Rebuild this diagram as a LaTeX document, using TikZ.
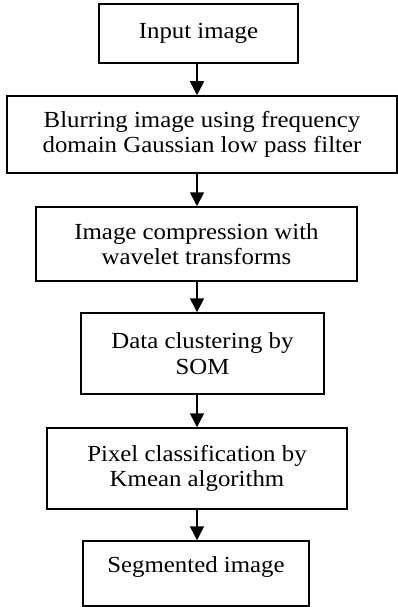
\documentclass[tikz,border=0pt]{standalone}
\usepackage{fontspec}
\setmainfont{Liberation Serif}[FakeStretch=1.08]
\usetikzlibrary{arrows.meta}
\begin{document}
\begin{tikzpicture}[x=1pt,y=-1pt,
  box/.style={draw,line width=1.5pt,align=center,inner sep=0pt,font=\fontsize{23}{25.5}\selectfont},
  arr/.style={line width=1.6pt,-{Triangle[length=14pt,width=14pt]}}]
\useasboundingbox (0,0) rectangle (398,607);
\node[box,minimum width=199pt,minimum height=59pt] (b1) at (198.5,33.5) {Input image};
\node[box,minimum width=390pt,minimum height=77pt] (b2) at (202,134.5) {Blurring image using frequency\\domain Gaussian low pass filter};
\node[box,minimum width=321pt,minimum height=74pt] (b3) at (196.5,244) {Image compression with\\wavelet transforms};
\node[box,minimum width=243pt,minimum height=81pt] (b4) at (202.5,353.5) {Data clustering by\\SOM};
\node[box,minimum width=300pt,minimum height=81pt] (b5) at (197,468.5) {Pixel classification by\\Kmean algorithm};
\node[box,minimum width=226pt,minimum height=65pt,text depth=18pt] (b6) at (196,573.5) {Segmented image};
\coordinate (ax) at (197,0);
\draw[arr] (b1.south -| ax) -- (b2.north -| ax);
\draw[arr] (b2.south -| ax) -- (b3.north -| ax);
\draw[arr] (b3.south -| ax) -- (b4.north -| ax);
\draw[arr] (b4.south -| ax) -- (b5.north -| ax);
\draw[arr] (b5.south -| ax) -- (b6.north -| ax);
\end{tikzpicture}
\end{document}
